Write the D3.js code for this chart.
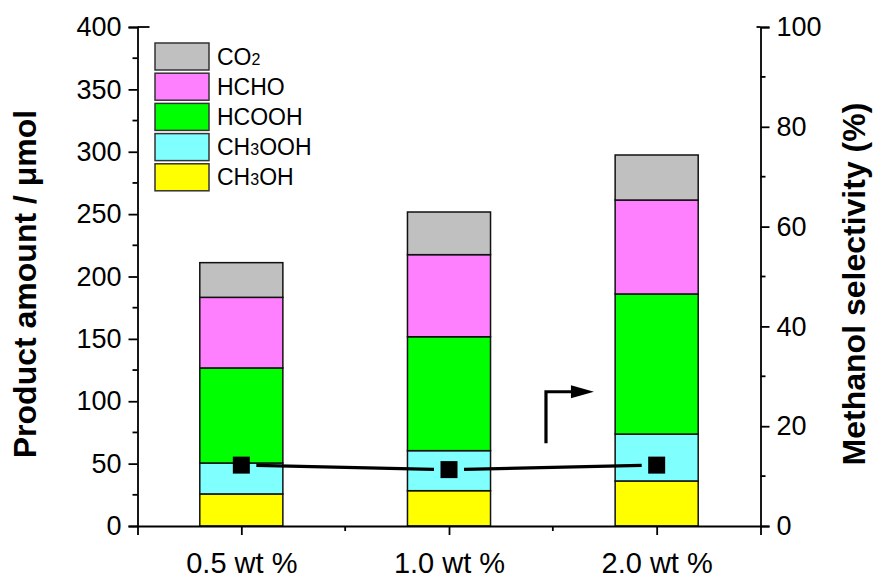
<!DOCTYPE html>
<html>
<head>
<meta charset="utf-8">
<script src="https://cdn.jsdelivr.net/npm/d3@7"></script>
<style>
  body { margin: 0; background: #fff; }
  text { font-family: Arial, "Liberation Sans", sans-serif; fill: #000; }
</style>
</head>
<body>
<svg id="chart" width="874" height="579"></svg>
<script>
// catalyst loadings (x categories)
const loadings = ["0.5 wt %", "1.0 wt %", "2.0 wt %"];

// product amounts per loading, umol
const ch3oh  = [25.7, 28.3, 36.1];
const ch3ooh = [24.8, 32.1, 37.6];
const hcooh  = [76.2, 91.3, 112.3];
const hcho   = [56.6, 65.8, 75.3];
const co2    = [27.8, 34.2, 36.1];

// methanol selectivity, %
const selectivity = [12.2, 11.3, 12.2];

// axis ticks
const leftTicks = [0, 50, 100, 150, 200, 250, 300, 350, 400];
const leftMinor = [25, 75, 125, 175, 225, 275, 325, 375];
const rightTicks = [0, 20, 40, 60, 80, 100];
const rightMinor = [10, 30, 50, 70, 90];

// series, bottom to top
const series = [
  { key: "ch3oh",  values: ch3oh,  color: "#FFFF00", label: ["CH", "3", "OH"] },
  { key: "ch3ooh", values: ch3ooh, color: "#80FFFF", label: ["CH", "3", "OOH"] },
  { key: "hcooh",  values: hcooh,  color: "#00FF00", label: ["HCOOH"] },
  { key: "hcho",   values: hcho,   color: "#FF80FF", label: ["HCHO"] },
  { key: "co2",    values: co2,    color: "#C0C0C0", label: ["CO", "2"] }
];

const width = 874, height = 579;
const margin = { top: 27, right: 113.5, bottom: 53, left: 137.5 };

const svg = d3.select("#chart");

const x = d3.scaleLinear().domain([0.5, 3.5]).range([margin.left, width - margin.right]);
const y = d3.scaleLinear().domain([0, 400]).range([height - margin.bottom, margin.top]);
const y2 = d3.scaleLinear().domain([0, 100]).range([height - margin.bottom, margin.top]);

// build table for the stack
const table = loadings.map((l, i) => {
  const row = { pos: i + 1 };
  series.forEach(s => row[s.key] = s.values[i]);
  return row;
});
const stacked = d3.stack().keys(series.map(s => s.key))(table);

const barW = 0.4;
const bars = svg.append("g");
stacked.forEach((layer, li) => {
  bars.selectAll(null)
    .data(layer)
    .join("rect")
    .attr("x", d => x(d.data.pos - barW / 2))
    .attr("width", x(barW) - x(0))
    .attr("y", d => y(d[1]))
    .attr("height", d => y(d[0]) - y(d[1]))
    .attr("fill", series[li].color)
    .attr("stroke", "#111")
    .attr("stroke-width", 1.5);
});

// axes
const tickFont = "27px";
const axisW = 1.8;

const xAxis = svg.append("g")
  .attr("transform", `translate(0,${height - margin.bottom})`)
  .call(d3.axisBottom(x).tickValues([1, 2, 3]).tickFormat(d => loadings[d - 1])
    .tickSizeOuter(0).tickSize(9).tickPadding(17));
xAxis.selectAll("text").style("font-size", "29px");
xAxis.selectAll(".tick line").attr("stroke-width", axisW);
xAxis.select(".domain").attr("stroke-width", axisW);
xAxis.selectAll(null).data([1.5, 2.5]).join("line")
  .attr("x1", d => x(d)).attr("x2", d => x(d))
  .attr("y1", 0).attr("y2", 5).attr("stroke", "#000").attr("stroke-width", axisW);

const yAxis = svg.append("g")
  .attr("transform", `translate(${margin.left},0)`)
  .call(d3.axisLeft(y).tickValues(leftTicks).tickSizeOuter(0).tickSize(9).tickPadding(7));
yAxis.selectAll("text").style("font-size", tickFont);
yAxis.selectAll(".tick line").attr("stroke-width", axisW);
yAxis.select(".domain").attr("stroke-width", axisW);
yAxis.selectAll(null).data(leftMinor).join("line")
  .attr("x1", -5).attr("x2", 0)
  .attr("y1", d => y(d)).attr("y2", d => y(d))
  .attr("stroke", "#000").attr("stroke-width", axisW);
yAxis.append("line")
  .attr("x1", 0).attr("x2", 12).attr("y1", y(400)).attr("y2", y(400))
  .attr("stroke", "#000").attr("stroke-width", axisW);

const yAxis2 = svg.append("g")
  .attr("transform", `translate(${width - margin.right},0)`)
  .call(d3.axisRight(y2).tickValues(rightTicks).tickSizeOuter(0).tickSize(9).tickPadding(7));
yAxis2.selectAll("text").style("font-size", tickFont);
yAxis2.selectAll(".tick line").attr("stroke-width", axisW);
yAxis2.select(".domain").attr("stroke-width", axisW);
yAxis2.selectAll(null).data(rightMinor).join("line")
  .attr("x1", 0).attr("x2", 5)
  .attr("y1", d => y2(d)).attr("y2", d => y2(d))
  .attr("stroke", "#000").attr("stroke-width", axisW);
yAxis2.append("line")
  .attr("x1", -4).attr("x2", 0).attr("y1", y2(100)).attr("y2", y2(100))
  .attr("stroke", "#000").attr("stroke-width", axisW);

// axis titles
svg.append("text")
  .attr("transform", `translate(36,284) rotate(-90)`)
  .attr("text-anchor", "middle")
  .style("font-size", "32px").style("font-weight", "bold")
  .text("Product amount / \u03bcmol");

svg.append("text")
  .attr("transform", `translate(865,284) rotate(-90)`)
  .attr("text-anchor", "middle")
  .style("font-size", "32px").style("font-weight", "bold")
  .text("Methanol selectivity (%)");

// selectivity line, drawn with gaps around the markers
const pts = selectivity.map((v, i) => [x(i + 1), y2(v)]);
const gap = 15;
const lineG = svg.append("g");
for (let i = 0; i < pts.length - 1; i++) {
  const [ax, ay] = pts[i], [bx, by] = pts[i + 1];
  const len = Math.hypot(bx - ax, by - ay);
  const ux = (bx - ax) / len, uy = (by - ay) / len;
  lineG.append("line")
    .attr("x1", ax + ux * gap).attr("y1", ay + uy * gap)
    .attr("x2", bx - ux * gap).attr("y2", by - uy * gap)
    .attr("stroke", "#000").attr("stroke-width", 3.2);
}
svg.append("g").selectAll("rect")
  .data(selectivity)
  .join("rect")
  .attr("x", (d, i) => x(i + 1) - 8.5)
  .attr("y", d => y2(d) - 8.5)
  .attr("width", 17).attr("height", 17)
  .attr("fill", "#000");

// arrow pointing to the right axis
const arrowX = 2.467, arrowTip = 2.698, arrowLow = 16.6, arrowHigh = 26.9;
svg.append("path")
  .attr("d", `M${x(arrowX)},${y2(arrowLow)} V${y2(arrowHigh)} H${x(arrowTip) - 20}`)
  .attr("fill", "none").attr("stroke", "#000").attr("stroke-width", 3.2);
svg.append("path")
  .attr("d", `M${x(arrowTip) - 23},${y2(arrowHigh) - 6.5} L${x(arrowTip)},${y2(arrowHigh)} L${x(arrowTip) - 23},${y2(arrowHigh) + 6.5} Z`)
  .attr("fill", "#000");

// legend (top to bottom: CO2 ... CH3OH)
const legend = svg.append("g").attr("transform", "translate(155,43)");
const legendItems = series.slice().reverse();
legendItems.forEach((s, i) => {
  const g = legend.append("g").attr("transform", `translate(0,${i * 30.2})`);
  g.append("rect")
    .attr("width", 54).attr("height", 27)
    .attr("fill", s.color).attr("stroke", "#333").attr("stroke-width", 1.5);
  const t = g.append("text")
    .attr("x", 62).attr("y", 21.5)
    .style("font-size", "23px");
  s.label.forEach((part, k) => {
    const sub = k === 1;
    t.append("tspan")
      .style("font-size", sub ? "16px" : "23px")
      .text(part);
  });
});
</script>
</body>
</html>
